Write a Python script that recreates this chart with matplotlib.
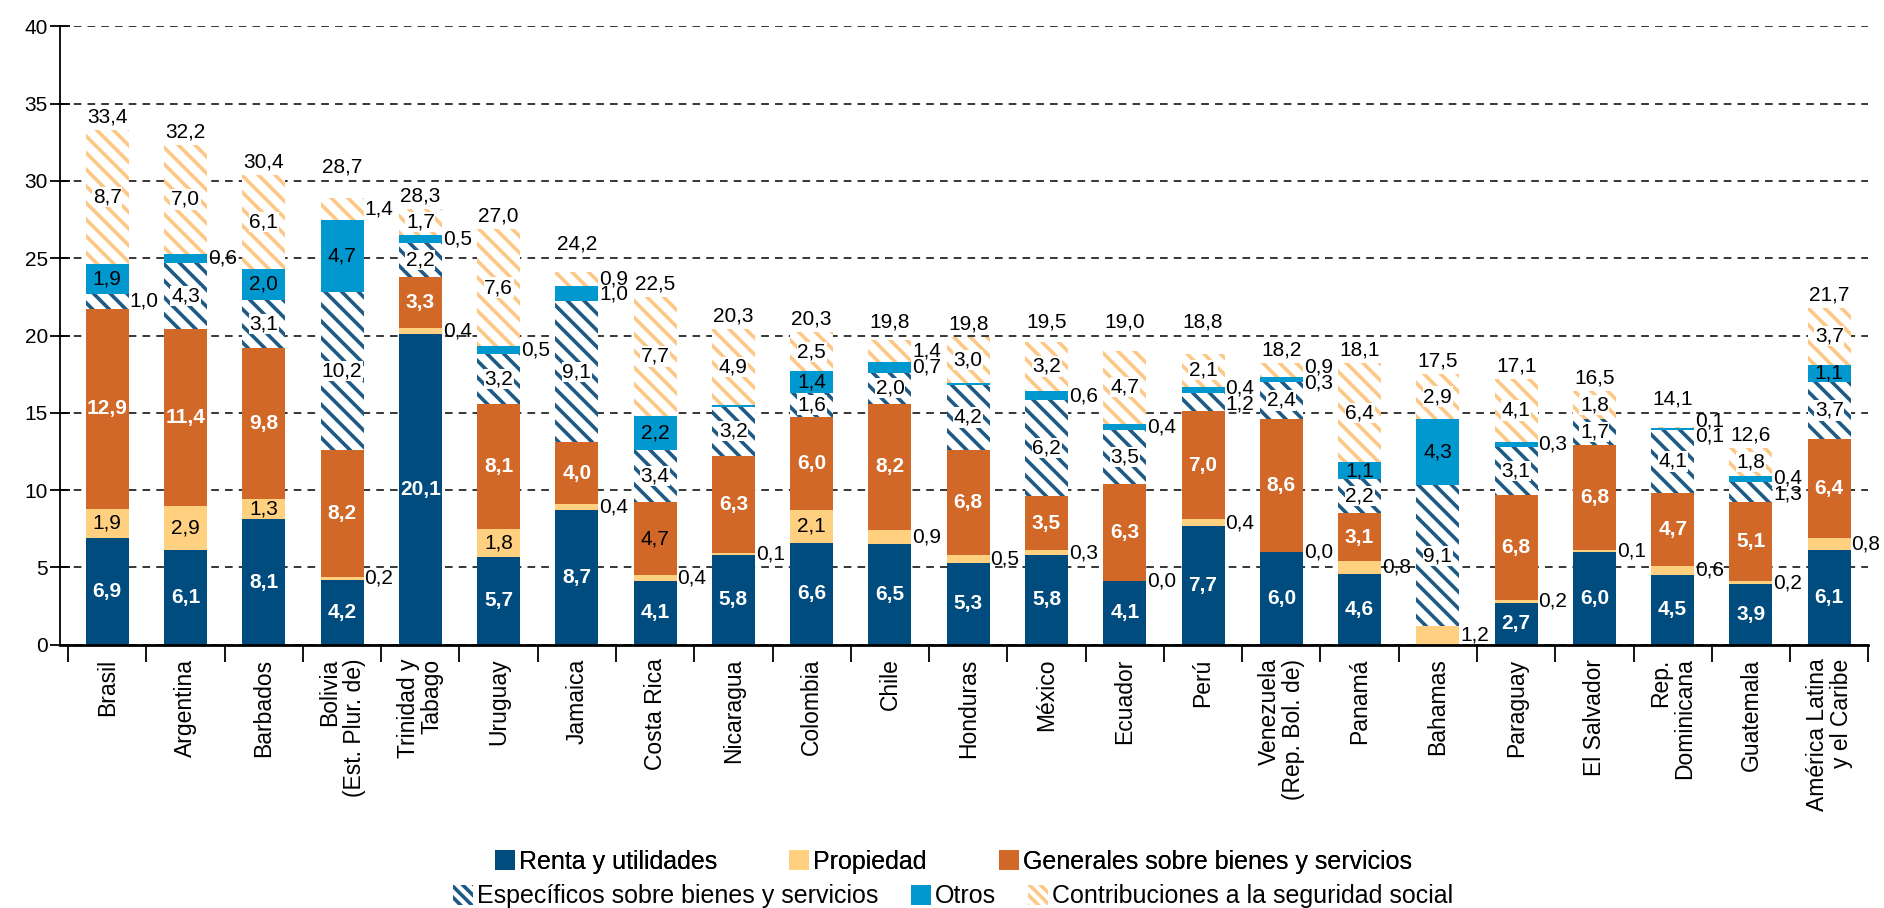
import matplotlib
matplotlib.use("Agg")
import matplotlib.pyplot as plt
import numpy as np
from matplotlib.patches import Patch

plt.rcParams.update({"font.family": ["Liberation Sans", "DejaVu Sans"], "font.size": 15,
                     "hatch.linewidth": 2.6})

countries = ["Brasil", "Argentina", "Barbados", "Bolivia\n(Est. Plur. de)", "Trinidad y\nTabago",
             "Uruguay", "Jamaica", "Costa Rica", "Nicaragua", "Colombia", "Chile", "Honduras",
             "México", "Ecuador", "Perú", "Venezuela\n(Rep. Bol. de)", "Panamá", "Bahamas",
             "Paraguay", "El Salvador", "Rep.\nDominicana", "Guatemala", "América Latina\ny el Caribe"]

renta = [6.9, 6.1, 8.1, 4.2, 20.1, 5.7, 8.7, 4.1, 5.8, 6.6, 6.5, 5.3, 5.8, 4.1, 7.7, 6.0, 4.6, 0.0,
         2.7, 6.0, 4.5, 3.9, 6.1]
propiedad = [1.9, 2.9, 1.3, 0.2, 0.4, 1.8, 0.4, 0.4, 0.1, 2.1, 0.9, 0.5, 0.3, 0.0, 0.4, 0.0, 0.8, 1.2,
             0.2, 0.1, 0.6, 0.2, 0.8]
generales = [12.9, 11.4, 9.8, 8.2, 3.3, 8.1, 4.0, 4.7, 6.3, 6.0, 8.2, 6.8, 3.5, 6.3, 7.0, 8.6, 3.1, 0.0,
             6.8, 6.8, 4.7, 5.1, 6.4]
especificos = [1.0, 4.3, 3.1, 10.2, 2.2, 3.2, 9.1, 3.4, 3.2, 1.6, 2.0, 4.2, 6.2, 3.5, 1.2, 2.4, 2.2, 9.1,
               3.1, 1.7, 4.1, 1.3, 3.7]
otros = [1.9, 0.6, 2.0, 4.7, 0.5, 0.5, 1.0, 2.2, 0.1, 1.4, 0.7, 0.1, 0.6, 0.4, 0.4, 0.3, 1.1, 4.3,
         0.3, 0.0, 0.1, 0.4, 1.1]
seguridad = [8.7, 7.0, 6.1, 1.4, 1.7, 7.6, 0.9, 7.7, 4.9, 2.5, 1.4, 3.0, 3.2, 4.7, 2.1, 0.9, 6.4, 2.9,
             4.1, 1.8, 0.1, 1.8, 3.7]
totales = [33.4, 32.2, 30.4, 28.7, 28.3, 27.0, 24.2, 22.5, 20.3, 20.3, 19.8, 19.8, 19.5, 19.0, 18.8,
           18.2, 18.1, 17.5, 17.1, 16.5, 14.1, 12.6, 21.7]

# segments drawn but without a number in the original
sin_etiqueta = {("Bahamas", 0), ("Bahamas", 2), ("Nicaragua", 4), ("Honduras", 4), ("El Salvador", 4)}
texto_oscuro = {("Costa Rica", 2)}

# (name, values, face colour, hatch colour or None, text colour inside, min value to label inside)
series = [
    ("Renta y utilidades", renta, "#004c7e", None, "white", 0.05),
    ("Propiedad", propiedad, "#ffd080", None, "black", 1.25),
    ("Generales sobre bienes y servicios", generales, "#d26828", None, "white", 0.05),
    ("Específicos sobre bienes y servicios", especificos, "white", "#1f5a85", "black", 1.5),
    ("Otros", otros, "#0098cf", None, "black", 1.05),
    ("Contribuciones a la seguridad social", seguridad, "white", "#fdc886", "black", 1.5),
]


def fmt(v):
    return f"{v:.1f}".replace(".", ",")


fig = plt.figure(figsize=(18.84, 9.08), dpi=100)
ax = fig.add_axes([0.032, 0.29, 0.9597, 0.681])
x = np.arange(len(countries))
w = 0.55
bottom = np.zeros(len(countries))
outside = {i: [] for i in range(len(countries))}
handles = []

for k, (name, vals, fc, hc, tc, limit) in enumerate(series):
    vals = np.array(vals)
    if hc is None:
        ax.bar(x, vals, w, bottom=bottom, color=fc, lw=0, zorder=2)
        handles.append(Patch(facecolor=fc, lw=0, label=name))
    else:
        ax.bar(x, vals, w, bottom=bottom, facecolor=fc, edgecolor=hc, hatch="\\\\", lw=0, zorder=2)
        handles.append(Patch(facecolor="white", edgecolor=hc, hatch="\\\\\\", lw=0, label=name))
    for i, v in enumerate(vals):
        key = (countries[i].split("\n")[0], k)
        if key in sin_etiqueta:
            continue
        yc = bottom[i] + v / 2
        if v >= limit:
            col = "black" if key in texto_oscuro else tc
            box = dict(fc="white", ec="none", pad=0.5) if hc is not None else None
            ax.text(x[i], yc, fmt(v), ha="center", va="center", color=col, fontsize=15,
                    fontweight="bold" if col == "white" else "normal", bbox=box, zorder=4)
        else:
            outside[i].append((yc, fmt(v)))
    bottom += vals

# small values go to the right of the bar, spread apart when they collide
gap = 1.0
for i, labs in outside.items():
    ys = sorted(labs)
    pos = [y for y, _ in ys]
    for j in range(1, len(pos)):
        if pos[j] - pos[j - 1] < gap:
            mid = (pos[j] + pos[j - 1]) / 2
            pos[j - 1], pos[j] = mid - gap / 2, mid + gap / 2
    for y, (_, s) in zip(pos, ys):
        ax.text(x[i] + w / 2 + 0.01, y, s, ha="left", va="center", fontsize=15, zorder=4)

# totals above the bars, lifted over a gridline when they would sit on it
for i, t in enumerate(totales):
    yc = bottom[i] + 0.85
    g = round(yc / 5) * 5
    if abs(yc - g) < 0.7:
        yc = g + 0.9
    ax.text(x[i], yc, fmt(t), ha="center", va="center", fontsize=15, zorder=4)

ax.set_ylim(0, 40)
ax.set_xlim(-0.6, len(countries) - 0.5)
ax.set_yticks(range(0, 41, 5))
ax.yaxis.grid(True, color="black", ls=(0, (5, 4)), lw=1.1, zorder=0)
ax.set_axisbelow(True)
ax.spines[["top", "right"]].set_visible(False)
ax.spines["left"].set_linewidth(1.3)
ax.spines["bottom"].set_linewidth(2)
ax.set_xticks(x)
ax.set_xticklabels(countries, rotation=90, ha="center", va="top", multialignment="right",
                   fontsize=16.5, linespacing=1.05)
ax.set_xticks(np.arange(len(countries) + 1) - 0.5, minor=True)
ax.tick_params(axis="x", which="major", length=0, pad=10)
ax.tick_params(axis="x", which="minor", length=12, width=1.3)
ax.tick_params(axis="y", direction="inout", length=14, width=1.3, labelsize=15, pad=2)

row_kw = dict(ncol=3, loc="center", frameon=False, fontsize=18, handlelength=0.8,
              handleheight=0.85, handletextpad=0.15)
leg1 = fig.legend(handles[:3], [s[0] for s in series[:3]], bbox_to_anchor=(0.506, 0.051),
                  columnspacing=2.9, **row_kw)
fig.add_artist(leg1)
fig.legend(handles[3:], [s[0] for s in series[3:]], bbox_to_anchor=(0.506, 0.013),
           columnspacing=1.3, **row_kw)

fig.savefig("out.png", dpi=100)
